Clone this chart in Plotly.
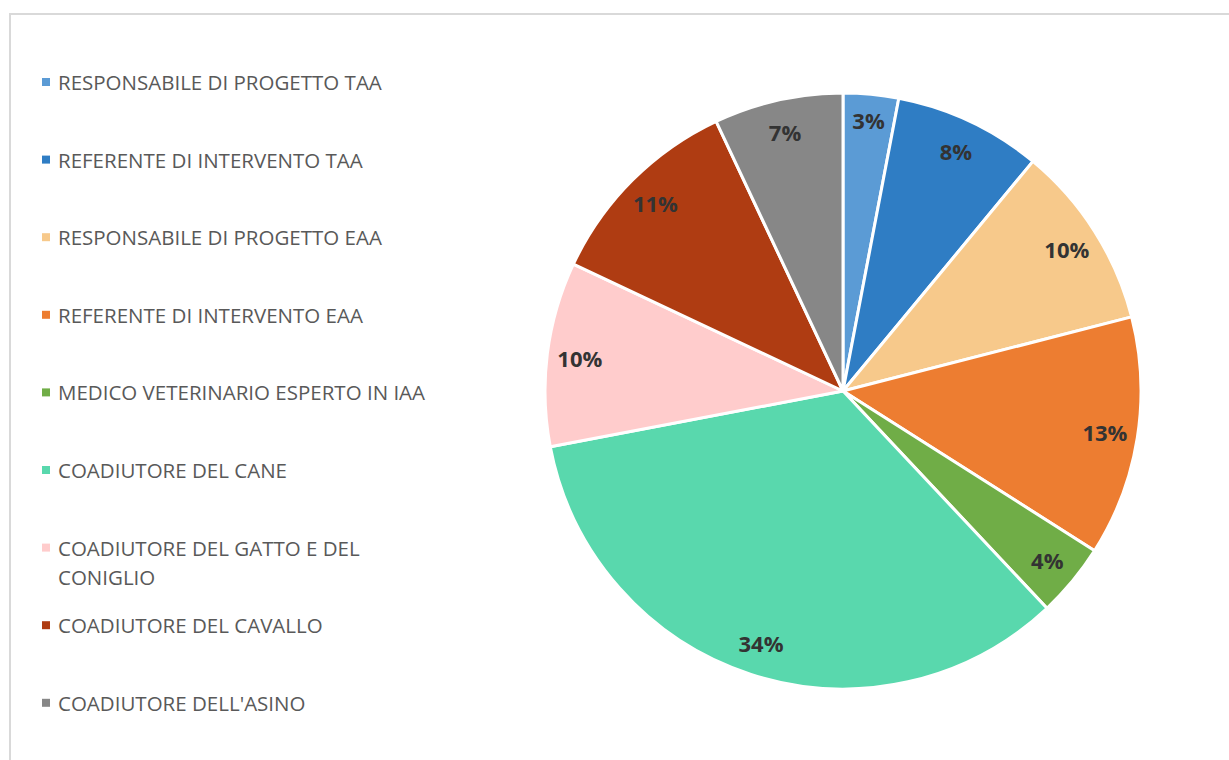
import plotly.graph_objects as go

# Share of each professional role (percent)
roles = [
    "RESPONSABILE DI PROGETTO TAA",
    "REFERENTE DI INTERVENTO TAA",
    "RESPONSABILE DI PROGETTO EAA",
    "REFERENTE DI INTERVENTO EAA",
    "MEDICO VETERINARIO ESPERTO IN IAA",
    "COADIUTORE DEL CANE",
    "COADIUTORE DEL GATTO E DEL<br>CONIGLIO",
    "COADIUTORE DEL CAVALLO",
    "COADIUTORE DELL'ASINO",
]
shares = [3, 8, 10, 13, 4, 34, 10, 11, 7]
colors = [
    "#5B9BD5", "#2F7DC4", "#F7C98B", "#ED7D31", "#70AD47",
    "#59D8AD", "#FFCCCC", "#AF3C12", "#878787",
]

W, H = 1229, 760
cx, cy, r = 843, 391, 298  # pie centre / radius in pixels
dom_x = [(cx - r) / W, (cx + r) / W]
dom_y = [(H - cy - r) / H, (H - cy + r) / H]

fig = go.Figure()

# Filled pie with white separators
fig.add_trace(go.Pie(
    values=shares, labels=roles, sort=False, direction="clockwise", rotation=0,
    marker=dict(colors=colors, line=dict(color="white", width=3)),
    textinfo="none", showlegend=False, domain=dict(x=dom_x, y=dom_y),
    hoverinfo="label+percent",
))

# Transparent ring on top, used only to place the percentage labels near the rim
fig.add_trace(go.Pie(
    values=shares, labels=roles, sort=False, direction="clockwise", rotation=0,
    hole=0.78,
    marker=dict(colors=["rgba(0,0,0,0)"] * len(shares), line=dict(width=0)),
    texttemplate="%{percent:.0%}", textposition="inside",
    insidetextorientation="horizontal",
    textfont=dict(family="Open Sans", size=22, color="#333333", weight="bold"),
    showlegend=False, domain=dict(x=dom_x, y=dom_y), hoverinfo="skip",
))

# Legend built from the role list: square swatch + label
shapes = [dict(
    type="rect", xref="paper", yref="paper",
    x0=10 / W, x1=1.01, y0=-0.01, y1=(H - 14) / H,
    line=dict(color="#D9D9D9", width=2), fillcolor="rgba(0,0,0,0)", layer="below",
)]
annotations = []
row0, step, line_gap = 82, 77.6, 29
for i, (name, col) in enumerate(zip(roles, colors)):
    y = row0 + i * step
    shapes.append(dict(
        type="rect", xref="paper", yref="paper",
        x0=42 / W, x1=50 / W, y0=(H - y - 4) / H, y1=(H - y + 4) / H,
        fillcolor=col, line=dict(width=0),
    ))
    for j, part in enumerate(name.split("<br>")):
        annotations.append(dict(
            xref="paper", yref="paper", x=56 / W, y=(H - y - j * line_gap) / H,
            xanchor="left", yanchor="middle", showarrow=False, text=part,
            font=dict(family="Open Sans", size=20.5, color="#595959"),
        ))

fig.update_layout(
    width=W, height=H, margin=dict(l=0, r=0, t=0, b=0),
    paper_bgcolor="white", plot_bgcolor="white",
    shapes=shapes, annotations=annotations,
)

fig.write_html("out.html")
